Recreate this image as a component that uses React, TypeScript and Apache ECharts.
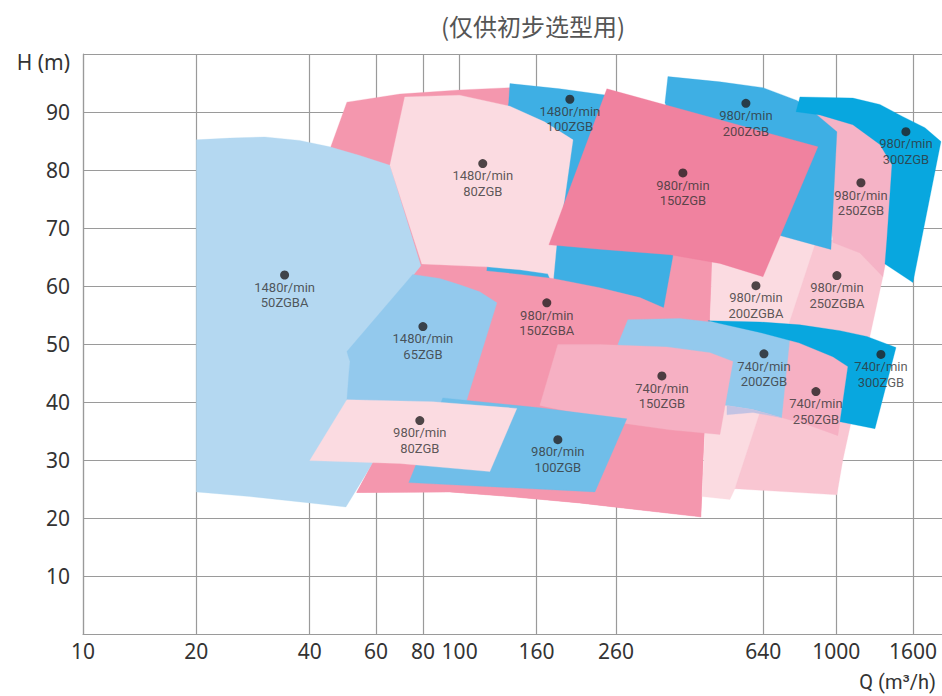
import React, { useEffect, useRef } from "react";
import * as echarts from "echarts";

// ---- axis ticks ----
const xTickLabels = [10, 20, 40, 60, 80, 100, 160, 260, 640, 1000, 1600];
const xGridLines = [10, 20, 40, 60, 80, 160, 260, 640, 1000, 1600];
const xPartialGrid = [100];
const xMin = 10;
const xMax = 1909;
const yMin = 0;
const yMax = 100;
const yStep = 10;

// ---- region outlines [Q (m3/h), H (m)] ----
const bgPink = [
  [50.2, 91.7], [69.4, 93.1], [100, 93.8], [136, 94.2], [266, 92.0], [434, 83.5],
  [470, 66.3], [470, 63.7], [462, 53.8], [443, 30.0], [437, 20.2], [283, 21.6],
  [208, 22.6], [136, 23.7], [94.2, 24.5], [53.3, 24.4], [58.8, 29.5], [54.3, 37.0],
  [48.1, 57.6], [45.2, 83.5],
];
const r1480_50A = [
  [20, 85.2], [24.5, 85.5], [30.4, 85.7], [37.6, 85.1], [45.2, 84.0], [54.3, 82.5],
  [65.3, 80.8], [78.9, 63.5], [51.1, 48.2], [51.1, 37.0], [58.8, 29.5], [49.9, 21.9],
  [40.0, 22.6], [27.7, 23.7], [20, 24.5],
];
const r1480_100 = [
  [136, 94.9], [184.5, 94.0], [246, 92.9], [283, 92.0], [373, 68.0], [368, 65.0],
  [346.5, 55.6], [266, 58.3], [177, 60.4], [118, 62.5], [128, 83.5], [135, 91.6],
];
const r1480_80 = [
  [71.5, 92.6], [100, 92.9], [136, 91.0], [168, 88.3], [200, 85.2], [190, 74.9],
  [181, 67.1], [176.8, 60.05], [171.5, 62.1], [144.5, 62.8], [118.1, 63.3],
  [79.4, 63.8], [65.3, 80.8],
];
const r980_150A = [
  [88.6, 63.5], [118.1, 62.6], [144.5, 62.0], [176.8, 61.3], [235.7, 59.7], [301, 58.0],
  [346.5, 56.3], [409, 54.5], [456, 53.3], [448, 37.0], [443, 30.0], [437, 20.2],
  [283, 21.6], [208.5, 22.6], [136, 23.7], [94.2, 24.5], [53.3, 24.4], [58.8, 29.5],
  [73.7, 43.8], [78.4, 59.4],
];
const r1480_65 = [
  [75.1, 62.0], [88.6, 61.3], [100.1, 60.2], [113.1, 59.0], [125.6, 57.1], [104.5, 40.4],
  [103.9, 38.7], [50.2, 38.7], [50.2, 40.4], [51.1, 47.0], [50.2, 48.7],
];
const r980_200A = [
  [470.5, 68.0], [708.7, 69.2], [933, 68.0], [582.8, 30.0], [538.3, 25.05], [522, 23.2],
  [440, 23.7], [462, 53.8],
];
const r980_250A = [
  [878, 67.1], [1023, 68.3], [1306, 67.1], [1330, 61.6], [1041, 30.0], [1004, 24.0],
  [538.3, 25.05],
];
const r980_250 = [
  [851, 90.7], [1121, 89.0], [1347, 85.2], [1432, 80.9], [1389, 68.0], [1330, 61.6],
  [1156, 65.7], [980, 67.5], [933, 78.3], [878, 89.5],
];
const r980_200 = [
  [357.3, 96.1], [491, 95.2], [639, 94.2], [786, 92.0], [889, 89.5], [1004, 86.6],
  [968, 66.3], [851, 67.3], [709, 68.7], [434.5, 74.9], [351, 91.6],
];
const r980_150 = [
  [246, 94.0], [894, 84.0], [639, 61.6], [491, 63.9], [362, 65.4], [240, 66.3], [172.6, 67.1],
];
const r980_300 = [
  [801, 92.6], [1107, 92.4], [1306, 91.3], [1503, 89.2], [1720, 87.3], [1897, 84.9],
  [1598, 60.6], [1347, 63.8], [1363, 68.0], [1406, 80.9], [1306, 84.4], [1107, 87.8],
  [905, 89.5], [782, 90.05],
];
const r740_200 = [
  [279.7, 54.2], [384.5, 54.4], [462, 53.8], [627, 53.0], [796, 50.2], [717.5, 37.3],
  [600.8, 38.7], [512.6, 39.4], [408.7, 40.4], [263.1, 49.9],
];
const overlapPatch = [
  [512.6, 39.4], [600.8, 38.7], [717.5, 37.3], [600.8, 38.2], [512.6, 37.8],
];
const r740_150 = [
  [182.3, 49.9], [235.7, 49.9], [355.1, 49.5], [462, 48.5], [531.7, 47.0], [491.1, 34.4],
  [361.7, 35.2], [274.7, 36.3], [163.3, 39.4],
];
const r740_250 = [
  [753.4, 50.7], [1121, 49.4], [1074, 46.1], [1010, 34.2], [836, 36.1], [717.5, 37.3],
];
const r740_300 = [
  [456.3, 54.0], [627, 53.8], [800.9, 53.3], [1023, 52.3], [1206, 51.3], [1441, 49.4],
  [1267, 35.4], [1023, 36.6], [1074, 46.1], [980, 47.8], [796, 50.2], [627, 52.0],
];
const r980_100 = [
  [90.2, 40.7], [163.3, 39.0], [278, 37.1], [228.7, 24.5], [73.3, 26.1],
];
const r980_80 = [
  [50.2, 40.4], [84.9, 40.05], [141.9, 38.9], [120.3, 28.0], [69.4, 29.4], [40.0, 29.9],
];

// ---- region labels ----
const labelSpeed = [
  "1480r/min", "1480r/min", "1480r/min", "980r/min", "980r/min", "980r/min", "980r/min",
  "1480r/min", "980r/min", "980r/min", "980r/min", "740r/min", "740r/min", "740r/min",
  "740r/min", "980r/min", "980r/min",
];
const labelModel = [
  "50ZGBA", "80ZGB", "100ZGB", "200ZGB", "150ZGB", "300ZGB", "250ZGB",
  "65ZGB", "150ZGBA", "200ZGBA", "250ZGBA", "200ZGB", "300ZGB", "150ZGB",
  "250ZGB", "80ZGB", "100ZGB",
];
const labelQ = [34.3, 115.2, 196.2, 575.6, 391.6, 1531, 1163, 79.9, 170.4, 612, 1004, 642.7, 1314, 344.4, 883.2, 78.4, 182.3];
const labelH = [61.9, 81.1, 92.2, 91.5, 79.5, 86.6, 77.8, 53.0, 57.1, 60.05, 61.8, 48.3, 48.2, 44.5, 41.8, 36.8, 33.5];

// ---- drawing order (back to front) with fills ----
const layers: { pts: number[][]; fill: string }[] = [
  { pts: bgPink, fill: "#f497ae" },
  { pts: r1480_50A, fill: "#b4d8f1" },
  { pts: r1480_100, fill: "#3eafe4" },
  { pts: r1480_80, fill: "#fbdbe1" },
  { pts: r980_150A, fill: "#f497ae" },
  { pts: r1480_65, fill: "#93c9ed" },
  { pts: r980_200A, fill: "#fbdbe1" },
  { pts: r980_250A, fill: "#f9c6d2" },
  { pts: r980_250, fill: "#f5b3c6" },
  { pts: r980_200, fill: "#3eafe4" },
  { pts: r980_150, fill: "#f0829f" },
  { pts: r980_300, fill: "#08a7df" },
  { pts: r740_200, fill: "#93c9ed" },
  { pts: overlapPatch, fill: "#c3c3e3" },
  { pts: r740_150, fill: "#f6b0c3" },
  { pts: r740_250, fill: "#f6b0c3" },
  { pts: r740_300, fill: "#08a7df" },
  { pts: r980_100, fill: "#70bee9" },
  { pts: r980_80, fill: "#fbdbe1" },
];

const FONT = '"Noto Sans", "DejaVu Sans", sans-serif';
const LABEL_FONT = 'Roboto, "Noto Sans", sans-serif';

export default function App() {
  const ref = useRef<HTMLDivElement>(null);

  useEffect(() => {
    if (!ref.current) return;
    const chart = echarts.init(ref.current, null, { renderer: "svg" });

    const polySeries = layers.map((layer, idx) => ({
      type: "custom",
      coordinateSystem: "cartesian2d",
      data: layer.pts,
      encode: { x: 0, y: 1 },
      silent: true,
      renderItem: (params: any, api: any) => {
        if (params.dataIndex !== 0) return null;
        const points = layer.pts.map((p) => api.coord(p));
        return {
          type: "polygon",
          z2: idx,
          shape: { points },
          style: { fill: layer.fill, stroke: layer.fill, lineWidth: 0.3 },
        };
      },
    }));

    const labelData = labelQ.map((q, i) => ({
      value: [q, labelH[i]],
      name: labelSpeed[i] + "\n" + labelModel[i],
    }));

    const option: any = {
      animation: false,
      backgroundColor: "#ffffff",
      grid: {
        left: 83,
        right: 0,
        top: 54,
        bottom: 62,
        containLabel: false,
        outerBoundsMode: "none",
      },
      xAxis: {
        type: "log",
        logBase: 10,
        min: xMin,
        max: xMax,
        axisLine: { show: true, onZero: false, lineStyle: { color: "#9a9a9a", width: 1.2 } },
        axisTick: { show: false, customValues: xGridLines },
        axisLabel: {
          customValues: xTickLabels,
          formatter: (v: number) => String(Math.round(v)),
          fontSize: 21,
          fontFamily: FONT,
          color: "#333333",
          margin: 6,
        },
        splitLine: { show: true, lineStyle: { color: "#9a9a9a", width: 1.2 } },
        minorTick: { show: false },
        minorSplitLine: { show: false },
      },
      yAxis: {
        type: "value",
        min: yMin,
        max: yMax,
        interval: yStep,
        axisLine: { show: true, lineStyle: { color: "#9a9a9a", width: 1.2 } },
        axisTick: { show: false },
        axisLabel: {
          fontSize: 21,
          fontFamily: FONT,
          color: "#333333",
          margin: 13,
          formatter: (v: number) => (v === yMin || v === yMax ? "" : String(v)),
        },
        splitLine: { show: true, lineStyle: { color: "#9a9a9a", width: 1.2 } },
      },
      graphic: [
        {
          type: "text",
          x: 533,
          y: 25,
          style: {
            text: "(仅供初步选型用)",
            fontSize: 24,
            fontFamily: '"Noto Sans CJK SC", sans-serif',
            fill: "#555555",
            align: "center",
            verticalAlign: "middle",
          },
        },
        {
          type: "text",
          x: 70,
          y: 62,
          style: {
            text: "H (m)",
            fontSize: 21,
            fontFamily: FONT,
            fill: "#333333",
            align: "right",
            verticalAlign: "middle",
          },
        },
        {
          type: "text",
          x: 936,
          y: 682,
          style: {
            text: "Q (m³/h)",
            fontSize: 20,
            fontFamily: LABEL_FONT,
            fill: "#333333",
            align: "right",
            verticalAlign: "middle",
          },
        },
      ],
      series: [
        ...polySeries,
        {
          type: "line",
          data: [],
          silent: true,
          markLine: {
            silent: true,
            symbol: "none",
            label: { show: false },
            lineStyle: { color: "#9a9a9a", width: 1.2, type: "solid" },
            data: xPartialGrid.map((q) => [{ coord: [q, yMax] }, { coord: [q, 93.8] }]),
          },
        },
        {
          type: "scatter",
          data: labelData,
          symbolSize: 9,
          silent: true,
          z: 10,
          itemStyle: { color: "#231f20" },
          label: {
            show: true,
            position: "bottom",
            distance: 0,
            formatter: "{b}",
            fontSize: 13,
            lineHeight: 15.5,
            fontFamily: LABEL_FONT,
            color: "#333333",
          },
        },
      ],
    };

    chart.setOption(option);
    return () => chart.dispose();
  }, []);

  return (
    <div
      ref={ref}
      style={{ position: "absolute", left: 0, top: 0, width: 942, height: 696 }}
    />
  );
}
